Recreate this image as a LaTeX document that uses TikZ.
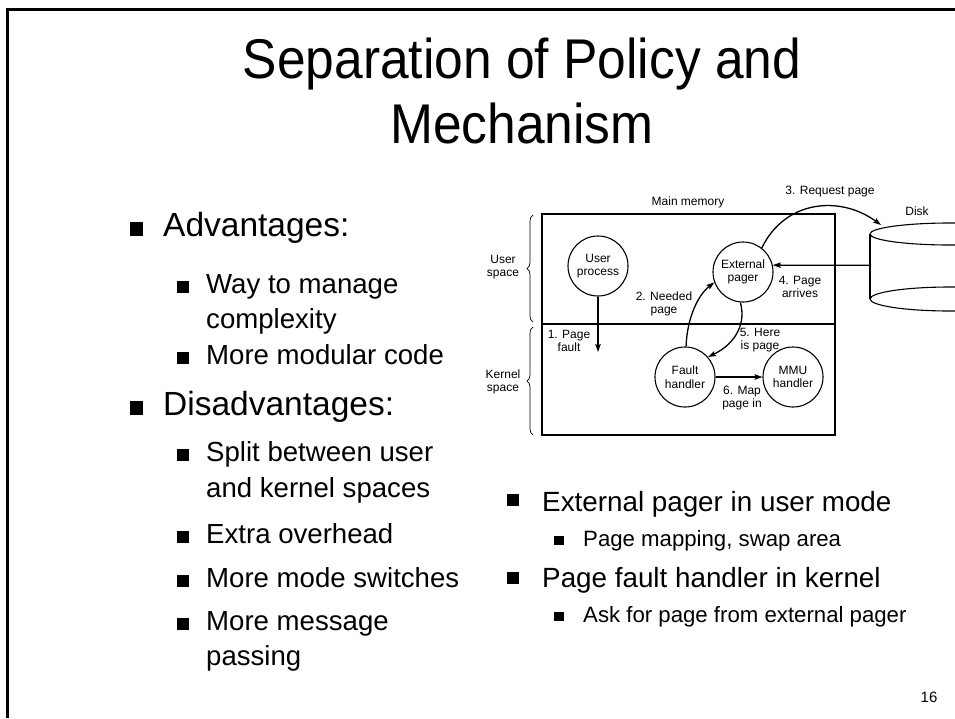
\documentclass[tikz,border=0pt]{standalone}
\usepackage{fontspec}
\setmainfont{Liberation Sans}
\newfontfamily\titlefam[FakeStretch=0.92]{Liberation Sans}
\usetikzlibrary{arrows.meta,decorations.pathreplacing}
\begin{document}
\begin{tikzpicture}[x=1pt,y=-1pt,
  title/.style={font=\titlefam\fontsize{56}{62}\selectfont, inner sep=0, anchor=base},
  lvlA/.style={font=\fontsize{33.5}{40}\selectfont, inner sep=0, anchor=base west},
  lvlB/.style={font=\fontsize{27.6}{33}\selectfont, inner sep=0, anchor=base west},
  lvlC/.style={font=\fontsize{27.8}{33}\selectfont, inner sep=0, anchor=base west},
  lvlD/.style={font=\fontsize{22.2}{27}\selectfont, inner sep=0, anchor=base west},
  sq/.style={fill=black, draw=none, inner sep=0, minimum size=#1, anchor=center},
  circ/.style={circle, draw, line width=1.1pt, minimum size=60pt, inner sep=0,
    font=\fontsize{12}{13.5}\selectfont, align=center},
  lbl/.style={font=\fontsize{12}{13.5}\selectfont, align=center, inner sep=0},
  arr/.style={-{Stealth[length=8pt,width=5.5pt,inset=1.5pt]}, line width=1.3pt},
  frame/.style={line width=2.5pt},
  brc/.style={decorate, decoration={brace, amplitude=6pt}, line width=0.7pt}]

\useasboundingbox (0,0) rectangle (955,718);
\clip (0,0) rectangle (955,718);

% slide frame
\draw[frame] (7.5,718) -- (7.5,9.5) -- (955,9.5);

% title
\node[title] (t1) at (522,78) {Separation of Policy and};
\node[title] (t2) at (522,143) {Mechanism};

% left column
\node[sq=13.5pt] (b1) at (136.5,229) {};
\node[lvlA] (a1) at (163,236) {Advantages:};
\node[sq=12pt] (b2) at (182.5,287) {};
\node[lvlB] (a2) at (206,293) {Way to manage};
\node[lvlB] (a3) at (206,328) {complexity};
\node[sq=12pt] (b3) at (182.5,358) {};
\node[lvlB] (a4) at (206,364) {More modular code};
\node[sq=13.5pt] (b4) at (136.5,408) {};
\node[lvlA] (a5) at (163,415) {Disadvantages:};
\node[sq=12pt] (b5) at (182.5,455) {};
\node[lvlB] (a6) at (206,461) {Split between user};
\node[lvlB] (a7) at (206,497) {and kernel spaces};
\node[sq=12pt] (b6) at (182.5,537) {};
\node[lvlB] (a8) at (206,543) {Extra overhead};
\node[sq=12pt] (b7) at (182.5,581) {};
\node[lvlB] (a9) at (206,587) {More mode switches};
\node[sq=12pt] (b8) at (182.5,624) {};
\node[lvlB] (a10) at (206,630) {More message};
\node[lvlB] (a11) at (206,665) {passing};

% right column
\node[sq=11.5pt] (c1) at (513,500) {};
\node[lvlC] (r1) at (542,511) {External pager in user mode};
\node[sq=9.5pt] (c2) at (559,540.5) {};
\node[lvlD] (r2) at (583,546) {Page mapping, swap area};
\node[sq=11.5pt] (c3) at (513,578) {};
\node[lvlC] (r3) at (542,587) {Page fault handler in kernel};
\node[sq=9.5pt] (c4) at (559,616.5) {};
\node[lvlD] (r4) at (583,622) {Ask for page from external pager};

% page number
\node[font=\fontsize{15}{18}\selectfont, inner sep=0] (pg) at (929,697) {16};

% ---- paging diagram ----
\draw[line width=1.2pt] (542,214) rectangle (835,435);
\draw[line width=1.2pt] (542,324) -- (835,324);
\node[lbl] (mm) at (688,202) {Main memory};

\draw[brc] (533,322) -- (533,215);
\draw[brc] (533,435) -- (533,327);
\node[lbl] (us) at (503,267) {User\\space};
\node[lbl] (ks) at (503,382) {Kernel\\space};

\node[circ] (up) at (598,266) {User\\process};
\node[circ] (pager) at (743,272) {External\\pager};
\node[circ] (fault) at (685,377) {Fault\\handler};
\node[circ] (mmu) at (793,377) {MMU\\handler};

% disk
\draw[line width=1.1pt] (870,234) -- (870,299);
\draw[line width=1.1pt] (950,234) ellipse [x radius=80pt, y radius=11pt];
\draw[line width=1.1pt] (950,299) ellipse [x radius=80pt, y radius=12pt];
\node[lbl] (dk) at (917,211) {Disk};
\coordinate (dk3) at (881,225);
\coordinate (dk4) at (870,265.3);

% messages
\coordinate (pf) at (598,352);
\draw[arr] (up.south) -- (pf);
\node[lbl] (l1) at (569,341) {1. Page\\fault};

\draw[arr] (fault.88) .. controls (687,318) and (698,295) .. (pager.200);
\node[lbl] (l2) at (664,304) {2. Needed\\page};

\draw[arr] (pager.52) .. controls (785,200) and (840,195) .. (dk3);
\node[lbl] (l3) at (830,192) {3. Request page};

\draw[arr] (dk4) -- (pager.13);
\node[lbl] (l4) at (800,287) {4. Page\\arrives};

\draw[arr] (pager.265) .. controls (746,322) and (737,343) .. (fault.41);
\node[lbl] (l5) at (760,340) {5. Here\\is page};

\draw[arr] (fault.east) -- (mmu.west);
\node[lbl] (l6) at (742,398) {6. Map\\page in};
\end{tikzpicture}
\end{document}
